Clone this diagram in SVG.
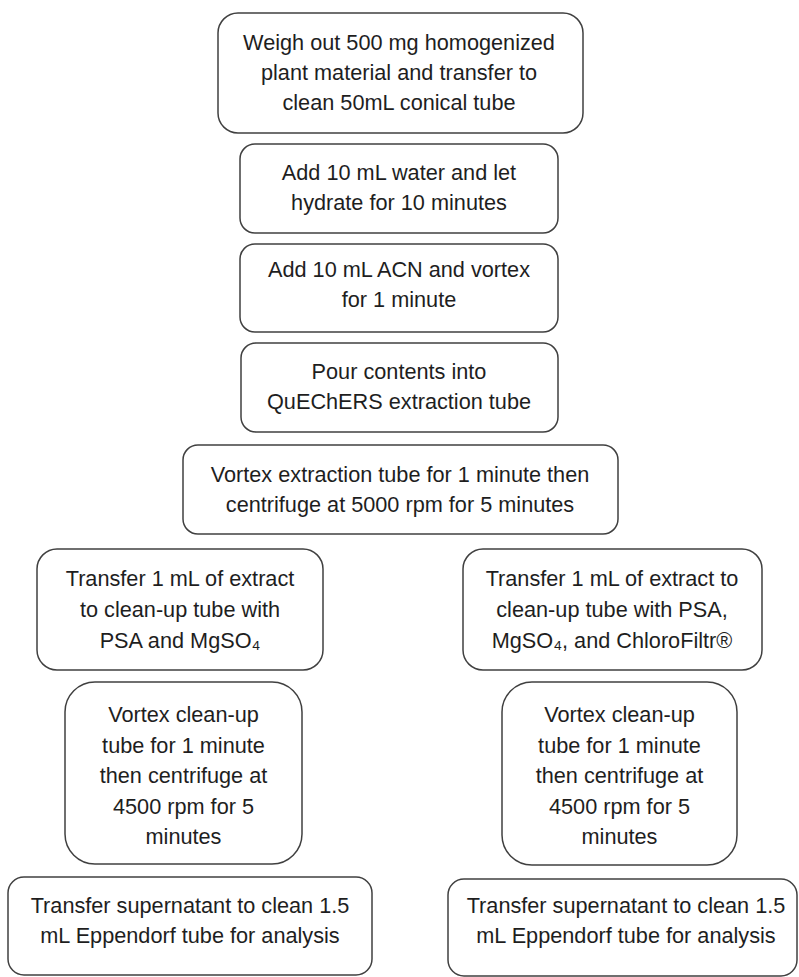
<svg xmlns="http://www.w3.org/2000/svg" width="799" height="977" viewBox="0 0 799 977">
<style>
.box{fill:#ffffff;stroke:#404040;stroke-width:1.5}
.t{font-family:"Liberation Sans",Arial,sans-serif;font-size:21.7px;fill:#1e1e1e;text-anchor:middle}
</style>
<rect x="0" y="0" width="799" height="977" fill="#ffffff"/>
<g id="connectors"/>
<g id="n1">
<rect class="box" x="218" y="13" width="365" height="120" rx="20"/>
<text class="t"><tspan x="399" y="50">Weigh out 500 mg homogenized</tspan><tspan x="399" y="80">plant material and transfer to</tspan><tspan x="399" y="110">clean 50mL conical tube</tspan></text>
</g>
<g id="n2">
<rect class="box" x="240" y="144" width="318" height="89" rx="15"/>
<text class="t"><tspan x="399" y="180">Add 10 mL water and let</tspan><tspan x="399" y="210">hydrate for 10 minutes</tspan></text>
</g>
<g id="n3">
<rect class="box" x="240" y="244" width="318" height="88" rx="15"/>
<text class="t"><tspan x="399" y="277">Add 10 mL ACN and vortex</tspan><tspan x="399" y="307">for 1 minute</tspan></text>
</g>
<g id="n4">
<rect class="box" x="241" y="343" width="317" height="89" rx="15"/>
<text class="t"><tspan x="399" y="379">Pour contents into</tspan><tspan x="399" y="409">QuEChERS extraction tube</tspan></text>
</g>
<g id="n5">
<rect class="box" x="183" y="445" width="435" height="89" rx="15"/>
<text class="t"><tspan x="400" y="482">Vortex extraction tube for 1 minute then</tspan><tspan x="400" y="512">centrifuge at 5000 rpm for 5 minutes</tspan></text>
</g>
<g id="n6">
<rect class="box" x="37" y="549" width="286" height="121" rx="20"/>
<text class="t"><tspan x="180" y="586">Transfer 1 mL of extract</tspan><tspan x="180" y="617">to clean-up tube with</tspan><tspan x="180" y="648">PSA and MgSO₄</tspan></text>
</g>
<g id="n7">
<rect class="box" x="65" y="682" width="237" height="182" rx="30"/>
<text class="t"><tspan x="183.5" y="722">Vortex clean-up</tspan><tspan x="183.5" y="752.5">tube for 1 minute</tspan><tspan x="183.5" y="783">then centrifuge at</tspan><tspan x="183.5" y="813.5">4500 rpm for 5</tspan><tspan x="183.5" y="844">minutes</tspan></text>
</g>
<g id="n8">
<rect class="box" x="8" y="877" width="364" height="98" rx="16"/>
<text class="t"><tspan x="190" y="913">Transfer supernatant to clean 1.5</tspan><tspan x="190" y="943">mL Eppendorf tube for analysis</tspan></text>
</g>
<g id="n9">
<rect class="box" x="463" y="549" width="299" height="121" rx="20"/>
<text class="t"><tspan x="612" y="586">Transfer 1 mL of extract to</tspan><tspan x="612" y="617">clean-up tube with PSA,</tspan><tspan x="612" y="648">MgSO₄, and ChloroFiltr®</tspan></text>
</g>
<g id="n10">
<rect class="box" x="502" y="682" width="235" height="183" rx="30"/>
<text class="t"><tspan x="619.5" y="722">Vortex clean-up</tspan><tspan x="619.5" y="752.5">tube for 1 minute</tspan><tspan x="619.5" y="783">then centrifuge at</tspan><tspan x="619.5" y="813.5">4500 rpm for 5</tspan><tspan x="619.5" y="844">minutes</tspan></text>
</g>
<g id="n11">
<rect class="box" x="448" y="879" width="349" height="97" rx="16"/>
<text class="t"><tspan x="626" y="913">Transfer supernatant to clean 1.5</tspan><tspan x="626" y="943">mL Eppendorf tube for analysis</tspan></text>
</g>
</svg>
